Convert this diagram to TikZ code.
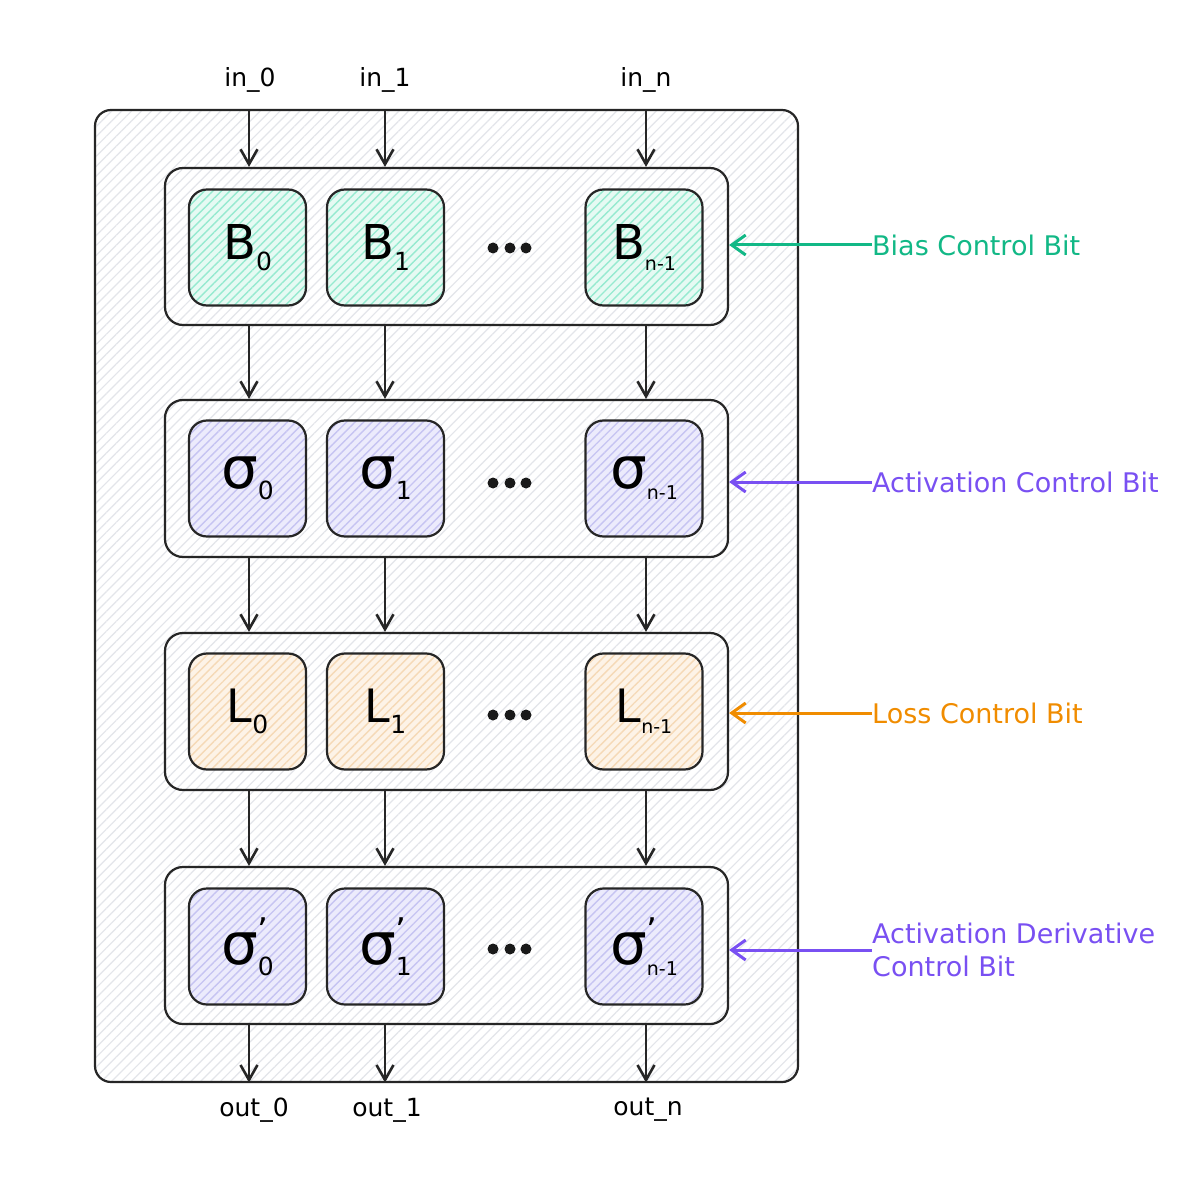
\documentclass[tikz,border=0pt]{standalone}
\usepackage{fontspec}
\setmainfont{DejaVu Sans}
\usetikzlibrary{arrows.meta,patterns.meta,calc}
\definecolor{grn}{HTML}{12B886}
\definecolor{pur}{HTML}{7950F2}
\definecolor{org}{HTML}{F08C00}
\definecolor{hatch}{HTML}{E3E5EA}
\definecolor{grnfill}{HTML}{E6FAF3}
\definecolor{grnhatch}{HTML}{96EAD0}
\definecolor{purfill}{HTML}{ECEBFC}
\definecolor{purhatch}{HTML}{C6C4F2}
\definecolor{orgfill}{HTML}{FDF3E7}
\definecolor{orghatch}{HTML}{F5D9B6}
\newcommand{\cellsym}[4]{{\fontsize{#4}{#4}\selectfont #1}\makebox[0pt][l]{\raisebox{22pt}{\fontsize{34}{34}\selectfont #3}}\raisebox{-11pt}{\fontsize{25}{25}\selectfont #2}}
\newcommand{\nm}{{\fontsize{19}{19}\selectfont n-1}}
\tikzset{
  outerbox/.style={draw=black!85, line width=2.2pt, rounded corners=16pt, minimum width=703pt, minimum height=972pt, inner sep=0pt,
    preaction={fill=white}, pattern={Lines[angle=45,distance=7pt,line width=1.2pt]}, pattern color=hatch},
  rowbox/.style={draw=black!85, line width=2.2pt, rounded corners=18pt, minimum width=563pt, minimum height=157pt, inner sep=0pt,
    preaction={fill=white}, pattern={Lines[angle=45,distance=7pt,line width=1.2pt]}, pattern color=hatch},
  cellbox/.style={draw=black!85, line width=2.2pt, rounded corners=18pt, minimum width=117pt, minimum height=116pt, inner sep=0pt},
  gcell/.style={cellbox, preaction={fill=grnfill}, pattern={Lines[angle=45,distance=6pt,line width=1.4pt]}, pattern color=grnhatch},
  pcell/.style={cellbox, preaction={fill=purfill}, pattern={Lines[angle=45,distance=6pt,line width=1.4pt]}, pattern color=purhatch},
  ocell/.style={cellbox, preaction={fill=orgfill}, pattern={Lines[angle=45,distance=6pt,line width=1.4pt]}, pattern color=orghatch},
  dotnode/.style={circle, fill=black!90, minimum size=11pt, inner sep=0pt},
  flow/.style={draw=black!85, line width=2.6pt, -{Straight Barb[length=15pt,width=17pt,line width=2.6pt]}},
  ctrl/.style={line width=3pt, -{Straight Barb[length=14pt,width=20pt,line width=3pt]}},
  iolabel/.style={font=\fontsize{25}{25}\selectfont, inner sep=0pt},
  ctrllabel/.style={font=\fontsize{27}{33}\selectfont, inner sep=0pt, anchor=west, align=left},
}
\begin{document}
\begin{tikzpicture}[x=1pt,y=-1pt]
\useasboundingbox (0,0) rectangle (1200,1193);

\node[outerbox] (outer) at (446.5,596) {};

% rows
\node[rowbox] (r1) at (446.5,246.5) {};
\node[rowbox] (r2) at (446.5,478.5) {};
\node[rowbox] (r3) at (446.5,711.5) {};
\node[rowbox] (r4) at (446.5,945.5) {};

% column coordinates
\coordinate (k0) at (249,0);
\coordinate (k1) at (385,0);
\coordinate (kn) at (646,0);

% row 1: bias
\node[gcell] (b0) at (247.5,247.5) {\cellsym{B}{0}{}{48}};
\node[gcell] (b1) at (385.5,247.5) {\cellsym{B}{1}{}{48}};
\node[gcell] (bn) at (644,247.5) {\cellsym{B}{\nm}{}{48}};
% row 2: activation
\node[pcell] (s0) at (247.5,478.5) {\cellsym{σ}{0}{}{58}};
\node[pcell] (s1) at (385.5,478.5) {\cellsym{σ}{1}{}{58}};
\node[pcell] (sn) at (644,478.5) {\cellsym{σ}{\nm}{}{58}};
% row 3: loss
\node[ocell] (l0) at (247.5,711.5) {\cellsym{L}{0}{}{46}};
\node[ocell] (l1) at (385.5,711.5) {\cellsym{L}{1}{}{46}};
\node[ocell] (ln) at (644,711.5) {\cellsym{L}{\nm}{}{46}};
% row 4: activation derivative
\node[pcell] (d0) at (247.5,946.5) {\cellsym{σ}{0}{’}{58}};
\node[pcell] (d1) at (385.5,946.5) {\cellsym{σ}{1}{’}{58}};
\node[pcell] (dn) at (644,946.5) {\cellsym{σ}{\nm}{’}{58}};

% ellipses
\foreach \r/\y in {1/248,2/483,3/715,4/949}{
  \node[dotnode] (e\r a) at (493,\y) {};
  \node[dotnode] (e\r b) at (510,\y) {};
  \node[dotnode] (e\r c) at (526,\y) {};
}

% io labels
\node[iolabel] (in0) at (250,80) {in\_0};
\node[iolabel] (in1) at (385,80) {in\_1};
\node[iolabel] (inn) at (646,80) {in\_n};
\node[iolabel] (out0) at (254,1110) {out\_0};
\node[iolabel] (out1) at (387,1110) {out\_1};
\node[iolabel] (outn) at (648,1110) {out\_n};

% vertical flow arrows
\foreach \k in {k0,k1,kn}{
  \draw[flow] (outer.north -| \k) -- (r1.north -| \k);
  \draw[flow] (r1.south -| \k) -- (r2.north -| \k);
  \draw[flow] (r2.south -| \k) -- (r3.north -| \k);
  \draw[flow] (r3.south -| \k) -- (r4.north -| \k);
  \draw[flow] (r4.south -| \k) -- (outer.south -| \k);
}

% control labels
\node[ctrllabel, text=grn] (cb) at (872,245) {Bias Control Bit};
\node[ctrllabel, text=pur] (ca) at (872,482) {Activation Control Bit};
\node[ctrllabel, text=org] (cl) at (872,713) {Loss Control Bit};
\node[ctrllabel, text=pur] (cd) at (872,950) {Activation Derivative\\Control Bit};

\draw[ctrl, grn] (cb.west) -- (r1.east |- cb.west);
\draw[ctrl, pur] (ca.west) -- (r2.east |- ca.west);
\draw[ctrl, org] (cl.west) -- (r3.east |- cl.west);
\draw[ctrl, pur] (cd.west) -- (r4.east |- cd.west);
\end{tikzpicture}
\end{document}
